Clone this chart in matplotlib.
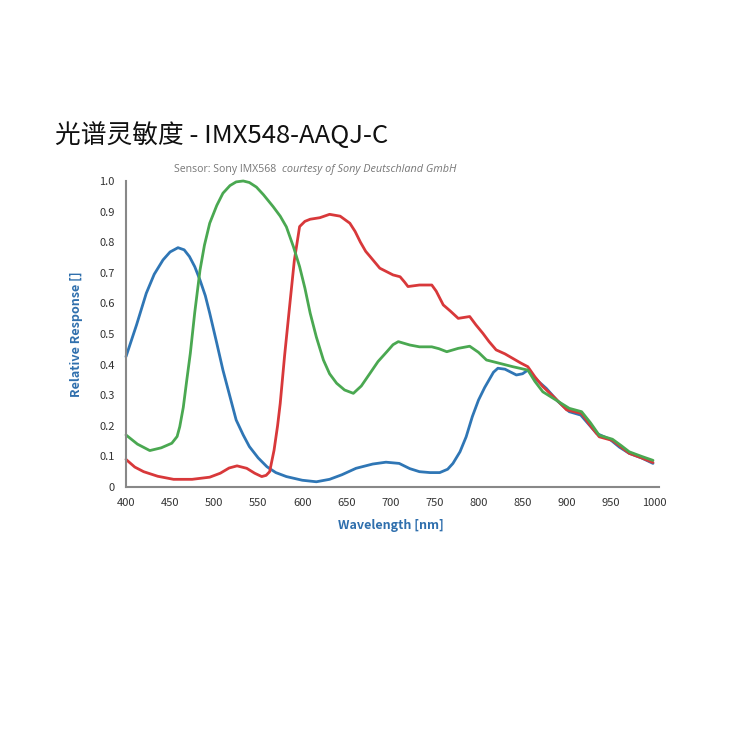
import matplotlib
matplotlib.use("Agg")
from matplotlib import pyplot as plt
from matplotlib.ticker import FuncFormatter

plt.rcParams['font.family'] = ['Noto Sans CJK SC', 'DejaVu Sans']

# data
blue_wl = [400, 412, 423, 432, 442, 450, 459, 466, 472, 478, 484, 490, 495, 503, 510, 518,
           525, 533, 540, 550, 560, 570, 582, 600, 616, 631, 645, 661, 680, 695, 710, 722,
           733, 745, 756, 765, 771, 779, 786, 793, 800, 807, 812, 817, 822, 830, 843, 850,
           856, 866, 877, 890, 903, 916, 925, 934, 949, 960, 971, 985, 998]
blue = [0.426, 0.530, 0.633, 0.695, 0.742, 0.768, 0.782, 0.775, 0.753, 0.720, 0.676, 0.625,
        0.568, 0.470, 0.382, 0.295, 0.219, 0.170, 0.132, 0.095, 0.066, 0.047, 0.034, 0.022,
        0.017, 0.025, 0.040, 0.061, 0.075, 0.081, 0.077, 0.060, 0.050, 0.047, 0.047, 0.058,
        0.077, 0.115, 0.164, 0.230, 0.284, 0.325, 0.350, 0.375, 0.388, 0.385, 0.366, 0.370,
        0.382, 0.350, 0.322, 0.280, 0.246, 0.235, 0.205, 0.175, 0.156, 0.130, 0.110, 0.095,
        0.077]

red_wl = [400, 410, 420, 436, 454, 475, 495, 507, 517, 526, 537, 546, 554, 559, 563, 568,
          572, 575, 580, 586, 591, 597, 603, 609, 620, 631, 643, 654, 660, 666, 672, 677,
          688, 703, 711, 716, 720, 733, 747, 752, 760, 768, 777, 790, 797, 805, 812, 820,
          830, 839, 848, 856, 864, 873, 887, 900, 917, 927, 937, 952, 962, 971, 985, 998]
red = [0.090, 0.065, 0.050, 0.035, 0.025, 0.025, 0.032, 0.045, 0.062, 0.069, 0.061, 0.045,
       0.034, 0.038, 0.050, 0.120, 0.200, 0.273, 0.430, 0.600, 0.740, 0.851, 0.868, 0.875,
       0.880, 0.891, 0.885, 0.862, 0.835, 0.800, 0.770, 0.753, 0.715, 0.693, 0.687, 0.670,
       0.655, 0.660, 0.660, 0.640, 0.595, 0.575, 0.551, 0.557, 0.530, 0.502, 0.475, 0.448,
       0.435, 0.420, 0.405, 0.393, 0.360, 0.328, 0.290, 0.252, 0.240, 0.200, 0.164, 0.152,
       0.130, 0.110, 0.095, 0.080]

green_wl = [400, 413, 427, 440, 452, 458, 461, 465, 469, 473, 478, 484, 489, 495, 503, 510,
            518, 525, 533, 540, 548, 556, 567, 575, 582, 590, 597, 603, 609, 616, 624, 631,
            639, 648, 658, 667, 677, 686, 696, 703, 709, 722, 733, 747, 755, 764, 777, 790,
            800, 809, 824, 839, 856, 864, 873, 888, 903, 917, 927, 937, 952, 962, 971, 985,
            998]
green = [0.170, 0.140, 0.119, 0.128, 0.143, 0.165, 0.197, 0.260, 0.350, 0.437, 0.570, 0.709,
         0.790, 0.862, 0.920, 0.960, 0.985, 0.997, 1.000, 0.995, 0.980, 0.955, 0.916, 0.885,
         0.850, 0.785, 0.720, 0.650, 0.568, 0.490, 0.415, 0.370, 0.339, 0.317, 0.306, 0.330,
         0.372, 0.410, 0.442, 0.465, 0.475, 0.464, 0.458, 0.458, 0.452, 0.442, 0.453, 0.460,
         0.440, 0.415, 0.404, 0.393, 0.382, 0.345, 0.311, 0.284, 0.257, 0.246, 0.210, 0.169,
         0.156, 0.135, 0.115, 0.100, 0.087]

x_ticks = [400, 450, 500, 550, 600, 650, 700, 750, 800, 850, 900, 950, 1000]
y_ticks = [0, 0.1, 0.2, 0.3, 0.4, 0.5, 0.6, 0.7, 0.8, 0.9, 1.0]

fig = plt.figure(figsize=(7.5, 7.5), dpi=100)
ax = fig.add_axes([0.168, 0.3507, 0.705, 0.408])

line_kw = dict(lw=2, solid_joinstyle='round', solid_capstyle='round', clip_on=False)
ax.plot(blue_wl, blue, color='#2f76b5', **line_kw)
ax.plot(red_wl, red, color='#d8383a', **line_kw)
ax.plot(green_wl, green, color='#4aa851', **line_kw)

ax.set_xlim(400, 1000)
ax.set_ylim(0, 1.0)
ax.set_xticks(x_ticks)
ax.set_yticks(y_ticks)
ax.yaxis.set_major_formatter(FuncFormatter(lambda v, p: '0' if v == 0 else f'{v:.1f}'))
ax.tick_params(length=0, labelsize=8, colors='#333333', pad=8)
for s in ['top', 'right']:
    ax.spines[s].set_visible(False)
for s in ['left', 'bottom']:
    ax.spines[s].set_color('#888888')
    ax.spines[s].set_linewidth(1.5)
ax.spines['bottom'].set_bounds(400, 1005)

ax.set_xlabel('Wavelength [nm]', color='#2f6fad', fontweight='bold', fontsize=9, labelpad=8)
ax.set_ylabel('Relative Response []', color='#2f6fad', fontweight='bold', fontsize=9, labelpad=12)

fig.text(0.073, 0.81, '光谱灵敏度 - IMX548-AAQJ-C', fontsize=18.5, color='#111111',
         va='baseline')
fig.text(0.232, 0.771, 'Sensor: Sony IMX568', fontsize=7.6, color='#777777', va='baseline',
         family=['Open Sans', 'DejaVu Sans'])
fig.text(0.376, 0.771, 'courtesy of Sony Deutschland GmbH', fontsize=7.8, color='#777777',
         style='italic', va='baseline', family=['Open Sans', 'DejaVu Sans'])

plt.savefig('out.png')
